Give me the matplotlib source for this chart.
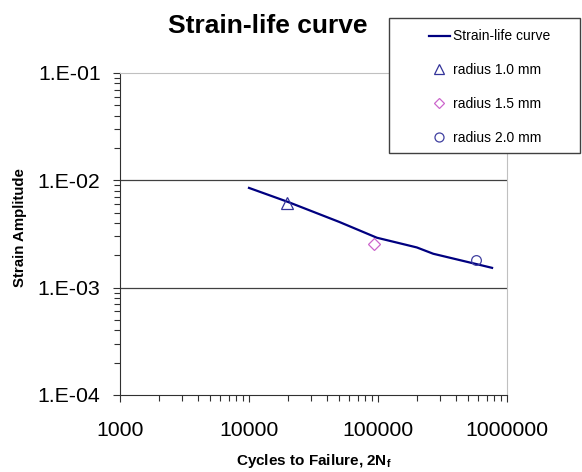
import matplotlib
matplotlib.use("Agg")
import matplotlib.pyplot as plt
from matplotlib.ticker import FixedLocator, LogLocator, NullFormatter, FixedFormatter
from matplotlib.patches import Rectangle
from matplotlib.lines import Line2D

plt.rcParams['font.family'] = ['Liberation Sans', 'DejaVu Sans']

# Strain-life curve
curve_cycles = [10000, 20000, 50000, 98000, 200000, 268000, 500000, 766000]
curve_strain = [0.0085, 0.0063, 0.0041, 0.00292, 0.00237, 0.00207, 0.00173, 0.00153]

# Test points
r10_cycles = [19700]
r10_strain = [0.00618]
r15_cycles = [93000]
r15_strain = [0.00257]
r20_cycles = [575000]
r20_strain = [0.00182]

x_ticks = [1000, 10000, 100000, 1000000]
x_labels = ["1000", "10000", "100000", "1000000"]
y_ticks = [1e-4, 1e-3, 1e-2, 1e-1]
y_labels = ["1.E-04", "1.E-03", "1.E-02", "1.E-01"]

fig = plt.figure(figsize=(5.82, 4.72), dpi=100)
ax = fig.add_axes([120/582, 1-395/472, (507-120)/582, (395-73)/472])

ax.set_xscale('log')
ax.set_yscale('log')
ax.set_xlim(1000, 1000000)
ax.set_ylim(1e-4, 1e-1)

ax.plot(curve_cycles, curve_strain, color='#000080', lw=1.6, zorder=3)
ax.plot(r10_cycles, r10_strain, ls='none', marker='^', ms=8, mfc='none', mec='#333399', mew=0.9, zorder=4)
ax.plot(r15_cycles, r15_strain, ls='none', marker='D', ms=6, mfc='none', mec='#CC66CC', mew=0.9, zorder=4)
ax.plot(r20_cycles, r20_strain, ls='none', marker='o', ms=7, mfc='none', mec='#4040A0', mew=0.9, zorder=4)

ax.xaxis.set_major_locator(FixedLocator(x_ticks))
ax.xaxis.set_major_formatter(FixedFormatter(x_labels))
ax.yaxis.set_major_locator(FixedLocator(y_ticks))
ax.yaxis.set_major_formatter(FixedFormatter(y_labels))
ax.xaxis.set_minor_locator(LogLocator(base=10, subs=range(2, 10)))
ax.yaxis.set_minor_locator(LogLocator(base=10, subs=range(2, 10)))
ax.xaxis.set_minor_formatter(NullFormatter())
ax.yaxis.set_minor_formatter(NullFormatter())

ax.tick_params(which='major', direction='out', length=5, width=0.8, colors='#303030',
               labelsize=15.3, labelcolor='black')
ax.tick_params(which='minor', direction='out', length=4, width=0.8, colors='#303030')
ax.tick_params(axis='y', which='major', pad=9)
ax.tick_params(axis='x', which='major', pad=14)

for s in ['top', 'right']:
    ax.spines[s].set_color('#c0c0c0')
for s in ['left', 'bottom']:
    ax.spines[s].set_color('#303030')

ax.yaxis.grid(True, which='major', color='#404040', lw=0.9)
gl = ax.get_ygridlines()
gl[0].set_visible(False)
gl[-1].set_visible(False)

ax.set_xlabel(r'Cycles to Failure, 2N$_\mathregular{f}$', fontsize=11, fontweight='bold', labelpad=8)
ax.set_ylabel('Strain Amplitude', fontsize=10.8, fontweight='bold')
ax.yaxis.set_label_coords(-0.240, 0.52)

fig.text(267.5/582, 1-33/472, 'Strain-life curve', fontsize=19, fontweight='bold',
         ha='center', va='baseline')

# Legend box
fig.patches.append(Rectangle((389/582, 1-153/472), (580-389)/582, (153-18)/472,
                             transform=fig.transFigure, facecolor='white',
                             edgecolor='#404040', lw=1.0, zorder=5))
handles = [
    Line2D([], [], color='#000080', lw=1.6),
    Line2D([], [], ls='none', marker='^', ms=7.5, mfc='none', mec='#333399', mew=0.9),
    Line2D([], [], ls='none', marker='D', ms=5.5, mfc='none', mec='#CC66CC', mew=0.9),
    Line2D([], [], ls='none', marker='o', ms=6.5, mfc='none', mec='#4040A0', mew=0.9),
]
labels = ['Strain-life curve', 'radius 1.0 mm', 'radius 1.5 mm', 'radius 2.0 mm']
leg = fig.legend(handles, labels, loc='center', bbox_to_anchor=(489.5/582, 1-87/472),
                 frameon=False, fontsize=10, handlelength=1.5, handletextpad=0.25,
                 labelspacing=1.42, borderpad=0)
leg.set_zorder(6)

fig.savefig('out.png', dpi=100)
